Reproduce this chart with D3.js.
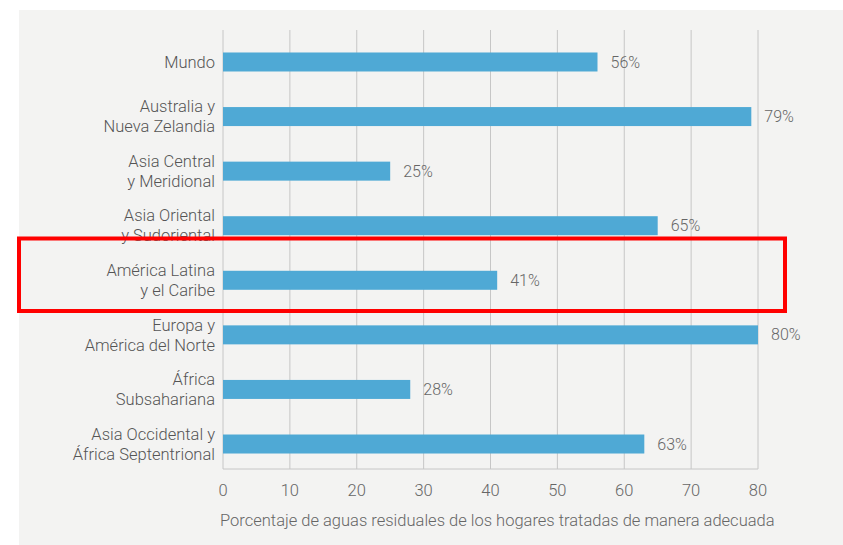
<!DOCTYPE html>
<html><head><meta charset="utf-8">
<script src="https://cdn.jsdelivr.net/npm/d3@7"></script>
<style>body{margin:0;background:#fff;}svg{display:block;font-family:Roboto,"Noto Sans",sans-serif;}</style>
</head><body>
<svg id="c" width="843" height="545"></svg>
<script>
const categories = [
  ["Mundo"],
  ["Australia y","Nueva Zelandia"],
  ["Asia Central","y Meridional"],
  ["Asia Oriental","y Sudoriental"],
  ["América Latina","y el Caribe"],
  ["Europa y","América del Norte"],
  ["África","Subsahariana"],
  ["Asia Occidental y","África Septentrional"]
];
const values = [56, 79, 25, 65, 41, 80, 28, 63];
const xTicks = [0,10,20,30,40,50,60,70,80];
const axisTitle = "Porcentaje de aguas residuales de los hogares tratadas de manera adecuada";
const highlightIndex = 4;

const svg = d3.select("#c");
svg.append("rect").attr("x",19).attr("y",10).attr("width",824).attr("height",535).attr("fill","#f3f3f2");

const x = d3.scaleLinear().domain([0,80]).range([223,758]);
const y = d3.scaleBand().domain(d3.range(categories.length)).range([34.7,471.3]).paddingInner(0.65).paddingOuter(0.325);
const gridTop = 30, gridBottom = 469;

svg.append("g").selectAll("line").data(xTicks).join("line")
  .attr("x1",d=>x(d)).attr("x2",d=>x(d)).attr("y1",gridTop).attr("y2",gridBottom)
  .attr("stroke","#c6c6c6").attr("stroke-width",1);
svg.append("line").attr("x1",x(0)).attr("x2",x(80)).attr("y1",gridBottom).attr("y2",gridBottom)
  .attr("stroke","#c6c6c6").attr("stroke-width",1);

const bh = 19;
svg.append("g").selectAll("rect").data(values).join("rect")
  .attr("x",x(0)).attr("y",(d,i)=>y(i)+y.bandwidth()/2-bh/2)
  .attr("width",d=>x(d)-x(0)).attr("height",bh).attr("fill","#4fa9d5");

svg.append("g").selectAll("text").data(values).join("text")
  .attr("x",d=>x(d)+13).attr("y",(d,i)=>y(i)+y.bandwidth()/2).attr("dy","0.35em")
  .attr("font-size",16).attr("font-weight",300).attr("fill","#666").text(d=>d+"%");

const lab = svg.append("g").selectAll("text").data(categories).join("text")
  .attr("text-anchor","end").attr("font-size",16.5).attr("font-weight",300).attr("fill","#555");
lab.each(function(lines,i){
  const cy = y(i)+y.bandwidth()/2;
  const lh = 20;
  const start = cy - (lines.length-1)*lh/2;
  d3.select(this).selectAll("tspan").data(lines).join("tspan")
    .attr("x",215).attr("y",(d,j)=>start+j*lh).attr("dy","0.35em").text(d=>d);
});

svg.append("g").selectAll("text").data(xTicks).join("text")
  .attr("x",d=>x(d)).attr("y",490).attr("dy","0.35em").attr("text-anchor","middle")
  .attr("font-size",16.5).attr("font-weight",300).attr("fill","#666").text(d=>d);

svg.append("text").attr("x",x(0)-3).attr("y",520).attr("dy","0.35em")
  .attr("font-size",16.5).attr("font-weight",300).attr("fill","#666").text(axisTitle);

svg.append("rect").attr("x",19).attr("y",238.5).attr("width",766).attr("height",72.5)
  .attr("fill","none").attr("stroke","#ff0000").attr("stroke-width",4);
</script>
</body></html>
